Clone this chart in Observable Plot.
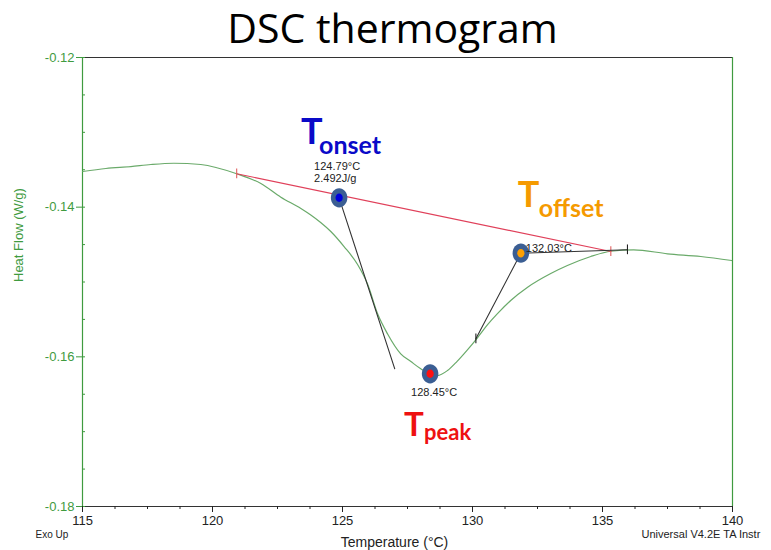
<!DOCTYPE html>
<html>
<head>
<meta charset="utf-8">
<script src="https://cdn.jsdelivr.net/npm/d3@7"></script>
<script src="https://cdn.jsdelivr.net/npm/@observablehq/plot@0.6"></script>
<style>
  html, body { margin: 0; padding: 0; background: #fff; overflow: hidden; }
</style>
</head>
<body>
<div id="chart"></div>
<script>
// ---- data ----
const curveT = [115.01,115.90,116.86,117.63,118.51,119.55,120.93,121.86,122.63,123.40,123.78,124.16,124.55,125.06,125.58,125.96,126.35,126.73,127.24,127.63,128.01,128.40,128.65,129.04,129.40,129.78,130.19,130.58,130.96,131.47,132.12,133.01,133.65,134.55,135.32,136.20,137.50,138.78,139.97];
const curveHF = [-0.13523,-0.13483,-0.13457,-0.13430,-0.13413,-0.13430,-0.13554,-0.13684,-0.13867,-0.14018,-0.14105,-0.14205,-0.14325,-0.14526,-0.14766,-0.15024,-0.15425,-0.15692,-0.15960,-0.16063,-0.16160,-0.16236,-0.16250,-0.16183,-0.16063,-0.15916,-0.15745,-0.15570,-0.15423,-0.15247,-0.15070,-0.14887,-0.14780,-0.14659,-0.14589,-0.14570,-0.14623,-0.14659,-0.14713];

const baselineT = [120.93, 135.32];
const baselineHF = [-0.13554, -0.14593];
const onsetTanT = [124.87, 127.01];
const onsetTanHF = [-0.13875, -0.16160];
const offsetTanT = [130.13, 131.86, 135.96];
const offsetTanHF = [-0.15759, -0.14615, -0.14570];
const blackTickT = [130.13, 135.96];
const blackTickHF = [-0.15759, -0.14570];

const markerNames = ["onset", "peak", "offset"];
const markerT = [124.87, 128.37, 131.86];
const markerHF = [-0.13875, -0.16227, -0.14615];
const markerLabels = [["124.79°C", "2.492J/g"], ["128.45°C"], ["132.03°C"]];

const xTicks = [115, 120, 125, 130, 135, 140];
const xMinor = d3.range(115, 140.001, 1.25);
const yTicks = [-0.18, -0.16, -0.14, -0.12];
const yMinor = d3.range(-0.18, -0.1199, 0.005);

const title = "DSC thermogram";
const xLabel = "Temperature (°C)";
const yLabel = "Heat Flow (W/g)";
const noteLeft = "Exo Up";
const noteRight = "Universal V4.2E TA Instr";

// ---- derived tables ----
const curve = curveT.map((t, i) => ({t, hf: curveHF[i]}));
const baseline = baselineT.map((t, i) => ({t, hf: baselineHF[i]}));
const onsetTan = onsetTanT.map((t, i) => ({t, hf: onsetTanHF[i]}));
const offsetTan = offsetTanT.map((t, i) => ({t, hf: offsetTanHF[i]}));
const markers = markerNames.map((n, i) => ({name: n, t: markerT[i], hf: markerHF[i]}));

const green = "#3f9b3f";
const curveGreen = "#6aaa6a";
const ring = "#3b5e93";
const inner = {onset: "#0000dd", peak: "#ff1010", offset: "#ffa000"};
const labelColor = {onset: "#0a0ac8", peak: "#ee1111", offset: "#f59a00"};
const tickH = 0.00065;

const ellipse = {
  draw(ctx, size) {
    const r = Math.sqrt(size / Math.PI);
    const rx = r * 0.86, ry = r, k = 0.5523;
    ctx.moveTo(rx, 0);
    ctx.bezierCurveTo(rx, ry * k, rx * k, ry, 0, ry);
    ctx.bezierCurveTo(-rx * k, ry, -rx, ry * k, -rx, 0);
    ctx.bezierCurveTo(-rx, -ry * k, -rx * k, -ry, 0, -ry);
    ctx.bezierCurveTo(rx * k, -ry, rx, -ry * k, rx, 0);
    ctx.closePath();
  }
};

function mk(i) { return [markers[i]]; }
function label(i, text, opts) {
  return Plot.text(mk(i), {x: "t", y: "hf", text: () => text, textAnchor: "start", lineAnchor: "bottom", ...opts});
}
const big = {fontFamily: "Lato, 'Open Sans', sans-serif", fontWeight: "bold"};
const small = {fontSize: 11, fill: "#222", fontFamily: "'Liberation Sans', Arial, sans-serif"};

const chart = Plot.plot({
  width: 771,
  height: 550,
  marginTop: 57,
  marginBottom: 44,
  marginLeft: 82,
  marginRight: 39,
  style: {fontFamily: "'Liberation Sans', Arial, sans-serif", background: "#fff", overflow: "hidden"},
  x: {domain: [115, 140]},
  y: {domain: [-0.18, -0.12]},
  marks: [
    // frame
    Plot.ruleY([-0.12], {stroke: "#333", strokeWidth: 1}),
    Plot.ruleY([-0.18], {stroke: "#333", strokeWidth: 1}),
    Plot.ruleX([115], {stroke: green, strokeWidth: 1.2}),
    Plot.ruleX([140], {stroke: green, strokeWidth: 1.2}),
    // axes
    Plot.axisY({ticks: yTicks, tickSize: 6, tickPadding: 2, fontSize: 13, color: green,
      tickFormat: d => d.toFixed(2), label: null}),
    Plot.axisY({ticks: yMinor, tickSize: -3, tickFormat: () => "", color: green, label: null}),
    Plot.axisX({ticks: xTicks, tickSize: 6, tickPadding: 3, fontSize: 13, color: "#222",
      tickFormat: d => String(d), label: null}),
    Plot.axisX({ticks: xMinor, tickSize: 3, tickFormat: () => "", color: "#222", label: null}),
    // texts around the frame
    Plot.text([title], {frameAnchor: "top", dx: -15, dy: -15, lineAnchor: "bottom",
      fontSize: 41, fill: "#000", fontFamily: "'Open Sans', Lato, sans-serif"}),
    Plot.text([xLabel], {frameAnchor: "bottom", dx: -13, dy: 40, lineAnchor: "bottom", fontSize: 14, fill: "#222"}),
    Plot.text([yLabel], {frameAnchor: "left", dx: -64, rotate: -90, fontSize: 13, fill: green}),
    Plot.text([noteLeft], {frameAnchor: "bottom-left", dx: -47, dy: 31, textAnchor: "start", lineAnchor: "bottom", fontSize: 10, fill: "#222"}),
    Plot.text([noteRight], {frameAnchor: "bottom-right", dx: -91, dy: 31, textAnchor: "start", lineAnchor: "bottom", fontSize: 11, fill: "#222"}),
    // data curve
    Plot.line(curve, {x: "t", y: "hf", stroke: curveGreen, strokeWidth: 1.2, curve: "monotone-x"}),
    // baseline & tangents
    Plot.line(baseline, {x: "t", y: "hf", stroke: "#e0405a", strokeWidth: 1.1}),
    Plot.ruleX(baseline, {x: "t", y1: d => d.hf - tickH, y2: d => d.hf + tickH, stroke: "#e06060", strokeWidth: 1.1}),
    Plot.line(onsetTan, {x: "t", y: "hf", stroke: "#333", strokeWidth: 1.1}),
    Plot.line(offsetTan, {x: "t", y: "hf", stroke: "#333", strokeWidth: 1.1}),
    Plot.ruleX(blackTickT.map((t, i) => ({t, hf: blackTickHF[i]})), {x: "t", y1: d => d.hf - tickH, y2: d => d.hf + tickH, stroke: "#222", strokeWidth: 1.1}),
    // markers
    Plot.dot(markers, {x: "t", y: "hf", r: 9.6, symbol: ellipse, fill: ring, stroke: "none"}),
    Plot.dot(markers, {x: "t", y: "hf", r: 4.2, symbol: ellipse, fill: d => inner[d.name], stroke: "none"}),
    // onset labels
    label(0, "T", {dx: -38, dy: -54, fontSize: 36, fill: labelColor.onset, ...big}),
    label(0, "onset", {dx: -20, dy: -44, fontSize: 25, fill: labelColor.onset, ...big}),
    label(0, markerLabels[0][0], {dx: -25, dy: -28, ...small}),
    label(0, markerLabels[0][1], {dx: -25, dy: -15.5, ...small}),
    // peak labels
    label(1, markerLabels[1][0], {dx: -19, dy: 22.5, ...small}),
    label(1, "T", {dx: -26, dy: 62, fontSize: 33, fill: labelColor.peak, ...big}),
    label(1, "peak", {dx: -6, dy: 66, fontSize: 22, fill: labelColor.peak, ...big}),
    // offset labels
    label(2, "T", {dx: -3, dy: -46, fontSize: 36, fill: labelColor.offset, ...big}),
    label(2, "offset", {dx: 18, dy: -36, fontSize: 25, fill: labelColor.offset, ...big}),
    label(2, markerLabels[2][0], {dx: 5, dy: -1, ...small})
  ]
});
document.getElementById("chart").appendChild(chart);
</script>
</body>
</html>
